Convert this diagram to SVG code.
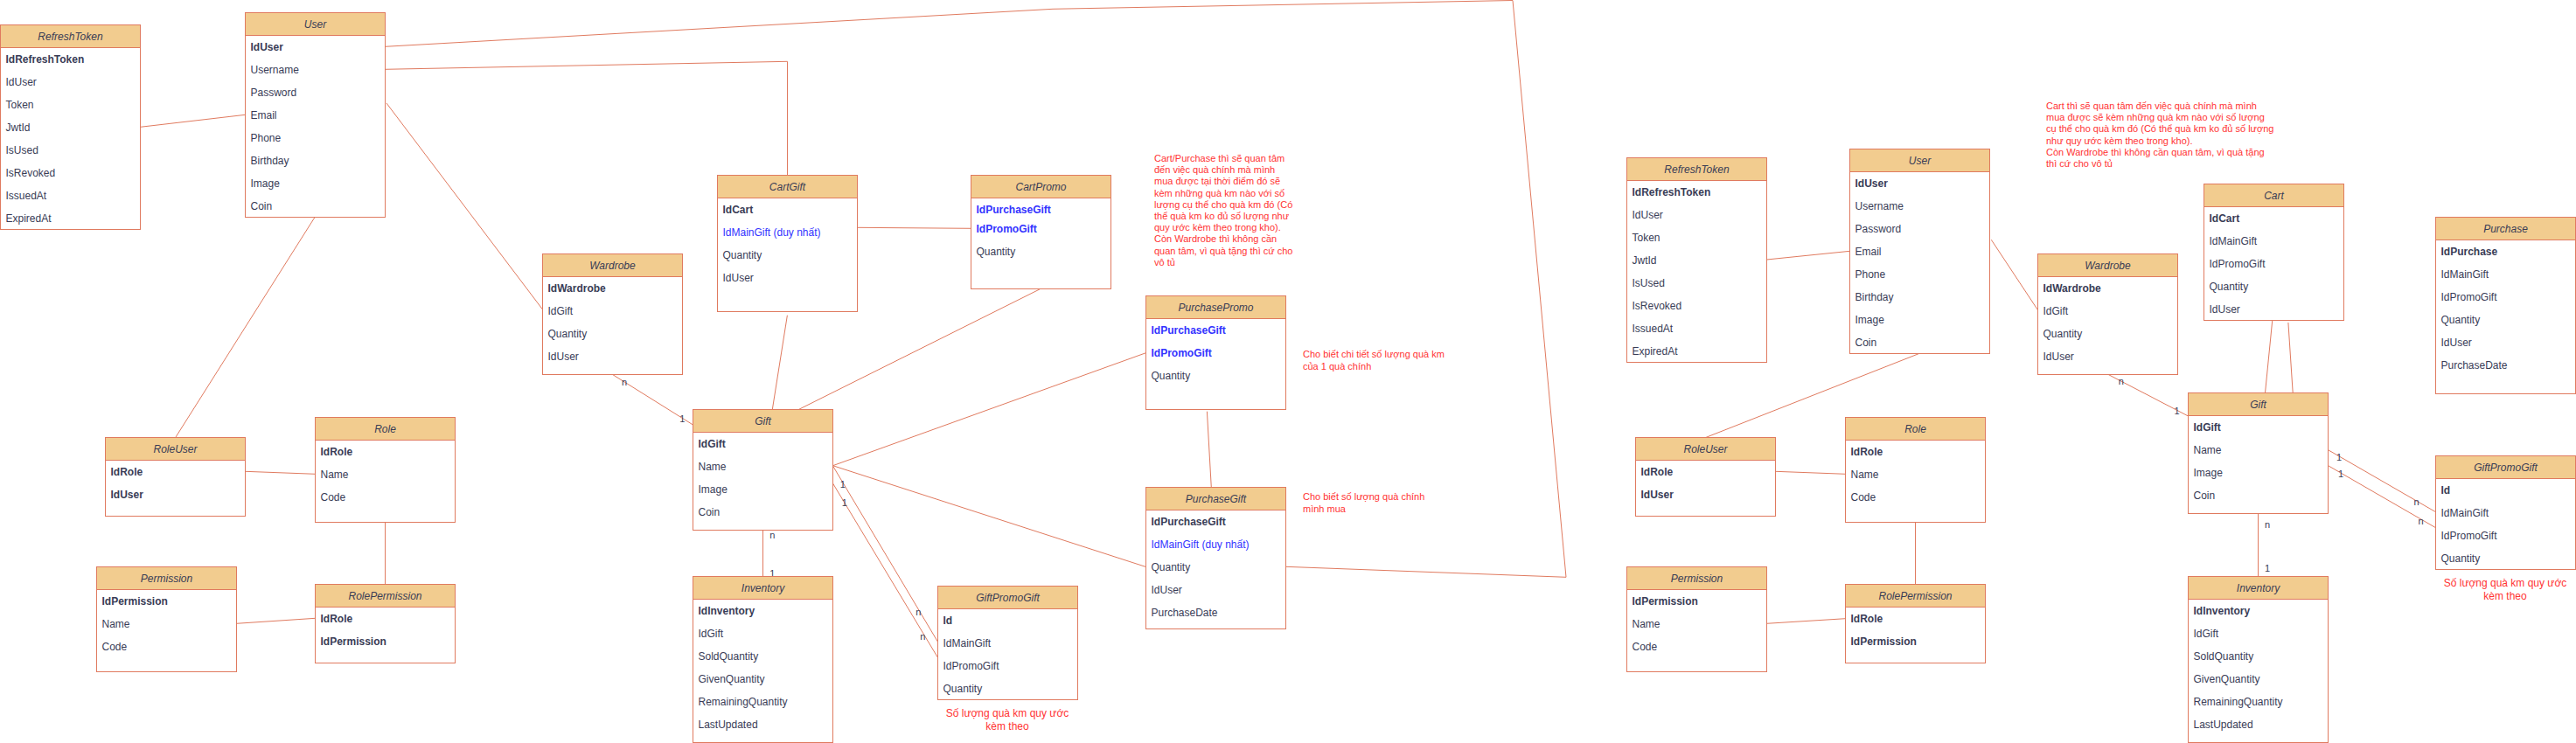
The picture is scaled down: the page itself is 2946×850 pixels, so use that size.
<svg xmlns="http://www.w3.org/2000/svg" width="2946" height="850" viewBox="0 0 2946 850">
<style>
text{font-family:"Liberation Sans",Arial,sans-serif;}
.bd{fill:#ffffff;stroke:#E07A5F;stroke-width:1;}
.hd{fill:#F2CC8F;stroke:#E07A5F;stroke-width:1;}
.t{font-size:12px;font-style:italic;fill:#393C56;text-anchor:middle;}
.f{font-size:12px;fill:#393C56;}
.b{font-weight:bold;}
.u{fill:#3333FF;}
.n{font-size:11px;fill:#FF3333;}
.c{font-size:12px;fill:#FF3333;text-anchor:middle;}
.l{font-size:11px;fill:#393C56;text-anchor:middle;}
.e{stroke:#E07A5F;stroke-width:1;fill:none;}
</style>
<rect width="2946" height="850" fill="#ffffff"/>
<g id="connectors">
<path class="e" d="M160.5,145.3 L280.5,131.3"/>
<path class="e" d="M440.5,79.3 L900.5,70.3 L900.5,200.5"/>
<path class="e" d="M440.5,53.3 L1204,10.3 L1730,0.5 L1791,660.3 L1470.5,648.3"/>
<path class="e" d="M442,118 L620.5,354"/>
<path class="e" d="M360,248.5 L200.7,500.5"/>
<path class="e" d="M280.5,539.3 L360.5,542.3"/>
<path class="e" d="M440.5,597.5 L440.5,668.5"/>
<path class="e" d="M270.5,713.3 L360.5,707.3"/>
<path class="e" d="M980.5,260.3 L1110.5,261.3"/>
<path class="e" d="M700.6,428.5 L792.5,486"/>
<path class="e" d="M900.4,360.7 L883.3,468.5"/>
<path class="e" d="M1189.4,330.7 L913.3,468.5"/>
<path class="e" d="M952.5,532.7 L1310.5,403.7"/>
<path class="e" d="M952.5,532.7 L1310.5,648.5"/>
<path class="e" d="M952.7,533.3 L1072.5,734.3"/>
<path class="e" d="M951.3,551 L1072.5,752.3"/>
<path class="e" d="M872.5,606.5 L872.5,659.5"/>
<path class="e" d="M1380.4,470.7 L1385.3,557.5"/>
<path class="e" d="M2020.5,297 L2115.5,287.3"/>
<path class="e" d="M2277.3,274.3 L2330.5,354.7"/>
<path class="e" d="M2194.7,404.5 L1950.7,500.5"/>
<path class="e" d="M2030.5,539.3 L2110.5,542.3"/>
<path class="e" d="M2190.5,597.5 L2190.5,668.5"/>
<path class="e" d="M2020.5,713.3 L2110.5,707.7"/>
<path class="e" d="M2411.2,428.5 L2502.5,476"/>
<path class="e" d="M2598.7,367 L2590.5,449.5"/>
<path class="e" d="M2616.9,369 L2622.2,449.5"/>
<path class="e" d="M2582.5,587.5 L2582.5,659.5"/>
<path class="e" d="M2662.5,514.7 L2785.5,585.7"/>
<path class="e" d="M2661.4,532 L2785.5,603.7"/>
<text class="l" x="714" y="441">n</text>
<text class="l" x="780.3" y="483">1</text>
<text class="l" x="883.3" y="616">n</text>
<text class="l" x="883.3" y="659.5">1</text>
<text class="l" x="963.7" y="558">1</text>
<text class="l" x="965.7" y="579">1</text>
<text class="l" x="1050.3" y="704">n</text>
<text class="l" x="1055.3" y="732">n</text>
<text class="l" x="2425.7" y="440">n</text>
<text class="l" x="2489.5" y="474">1</text>
<text class="l" x="2593" y="604">n</text>
<text class="l" x="2593" y="654">1</text>
<text class="l" x="2675" y="527">1</text>
<text class="l" x="2677" y="546">1</text>
<text class="l" x="2763.5" y="578">n</text>
<text class="l" x="2768.5" y="600">n</text>
</g>
<g id="RefreshToken">
<rect class="bd" x="0.5" y="28.5" width="160" height="234"/><rect class="hd" x="0.5" y="28.5" width="160" height="26"/>
<text class="t" x="80.5" y="45.5">RefreshToken</text>
<text class="f b" x="6.5" y="72">IdRefreshToken</text>
<text class="f" x="6.5" y="98">IdUser</text>
<text class="f" x="6.5" y="124">Token</text>
<text class="f" x="6.5" y="150">JwtId</text>
<text class="f" x="6.5" y="176">IsUsed</text>
<text class="f" x="6.5" y="202">IsRevoked</text>
<text class="f" x="6.5" y="228">IssuedAt</text>
<text class="f" x="6.5" y="254">ExpiredAt</text>
</g>
<g id="User">
<rect class="bd" x="280.5" y="14.5" width="160" height="234"/><rect class="hd" x="280.5" y="14.5" width="160" height="26"/>
<text class="t" x="360.5" y="31.5">User</text>
<text class="f b" x="286.5" y="58">IdUser</text>
<text class="f" x="286.5" y="84">Username</text>
<text class="f" x="286.5" y="110">Password</text>
<text class="f" x="286.5" y="136">Email</text>
<text class="f" x="286.5" y="162">Phone</text>
<text class="f" x="286.5" y="188">Birthday</text>
<text class="f" x="286.5" y="214">Image</text>
<text class="f" x="286.5" y="240">Coin</text>
</g>
<g id="CartGift">
<rect class="bd" x="820.5" y="200.5" width="160" height="156"/><rect class="hd" x="820.5" y="200.5" width="160" height="26"/>
<text class="t" x="900.5" y="217.5">CartGift</text>
<text class="f b" x="826.5" y="244">IdCart</text>
<text class="f u" x="826.5" y="270">IdMainGift (duy nhất)</text>
<text class="f" x="826.5" y="296">Quantity</text>
<text class="f" x="826.5" y="322">IdUser</text>
</g>
<g id="CartPromo">
<rect class="bd" x="1110.5" y="200.5" width="160" height="130"/><rect class="hd" x="1110.5" y="200.5" width="160" height="26"/>
<text class="t" x="1190.5" y="217.5">CartPromo</text>
<text class="f b u" x="1116.5" y="243.7">IdPurchaseGift</text>
<text class="f b u" x="1116.5" y="265.7">IdPromoGift</text>
<text class="f" x="1116.5" y="291.7">Quantity</text>
</g>
<g id="Wardrobe">
<rect class="bd" x="620.5" y="290.5" width="160" height="138"/><rect class="hd" x="620.5" y="290.5" width="160" height="26"/>
<text class="t" x="700.5" y="307.5">Wardrobe</text>
<text class="f b" x="626.5" y="334">IdWardrobe</text>
<text class="f" x="626.5" y="360">IdGift</text>
<text class="f" x="626.5" y="386">Quantity</text>
<text class="f" x="626.5" y="412">IdUser</text>
</g>
<g id="PurchasePromo">
<rect class="bd" x="1310.5" y="338.5" width="160" height="130"/><rect class="hd" x="1310.5" y="338.5" width="160" height="26"/>
<text class="t" x="1390.5" y="355.5">PurchasePromo</text>
<text class="f b u" x="1316.5" y="382">IdPurchaseGift</text>
<text class="f b u" x="1316.5" y="408">IdPromoGift</text>
<text class="f" x="1316.5" y="434">Quantity</text>
</g>
<g id="PurchaseGift">
<rect class="bd" x="1310.5" y="557.5" width="160" height="162"/><rect class="hd" x="1310.5" y="557.5" width="160" height="26"/>
<text class="t" x="1390.5" y="574.5">PurchaseGift</text>
<text class="f b" x="1316.5" y="601">IdPurchaseGift</text>
<text class="f u" x="1316.5" y="627">IdMainGift (duy nhất)</text>
<text class="f" x="1316.5" y="653">Quantity</text>
<text class="f" x="1316.5" y="679">IdUser</text>
<text class="f" x="1316.5" y="705">PurchaseDate</text>
</g>
<g id="Gift">
<rect class="bd" x="792.5" y="468.5" width="160" height="138"/><rect class="hd" x="792.5" y="468.5" width="160" height="26"/>
<text class="t" x="872.5" y="485.5">Gift</text>
<text class="f b" x="798.5" y="512">IdGift</text>
<text class="f" x="798.5" y="538">Name</text>
<text class="f" x="798.5" y="564">Image</text>
<text class="f" x="798.5" y="590">Coin</text>
</g>
<g id="Inventory">
<rect class="bd" x="792.5" y="659.5" width="160" height="190"/><rect class="hd" x="792.5" y="659.5" width="160" height="26"/>
<text class="t" x="872.5" y="676.5">Inventory</text>
<text class="f b" x="798.5" y="703">IdInventory</text>
<text class="f" x="798.5" y="729">IdGift</text>
<text class="f" x="798.5" y="755">SoldQuantity</text>
<text class="f" x="798.5" y="781">GivenQuantity</text>
<text class="f" x="798.5" y="807">RemainingQuantity</text>
<text class="f" x="798.5" y="833">LastUpdated</text>
</g>
<g id="GiftPromoGift">
<rect class="bd" x="1072.5" y="670.5" width="160" height="130"/><rect class="hd" x="1072.5" y="670.5" width="160" height="26"/>
<text class="t" x="1152.5" y="687.5">GiftPromoGift</text>
<text class="f b" x="1078.5" y="714">Id</text>
<text class="f" x="1078.5" y="740">IdMainGift</text>
<text class="f" x="1078.5" y="766">IdPromoGift</text>
<text class="f" x="1078.5" y="792">Quantity</text>
</g>
<g id="RoleUser">
<rect class="bd" x="120.5" y="500.5" width="160" height="90"/><rect class="hd" x="120.5" y="500.5" width="160" height="26"/>
<text class="t" x="200.5" y="517.5">RoleUser</text>
<text class="f b" x="126.5" y="544">IdRole</text>
<text class="f b" x="126.5" y="570">IdUser</text>
</g>
<g id="Role">
<rect class="bd" x="360.5" y="477.5" width="160" height="120"/><rect class="hd" x="360.5" y="477.5" width="160" height="26"/>
<text class="t" x="440.5" y="494.5">Role</text>
<text class="f b" x="366.5" y="521">IdRole</text>
<text class="f" x="366.5" y="547">Name</text>
<text class="f" x="366.5" y="573">Code</text>
</g>
<g id="Permission">
<rect class="bd" x="110.5" y="648.5" width="160" height="120"/><rect class="hd" x="110.5" y="648.5" width="160" height="26"/>
<text class="t" x="190.5" y="665.5">Permission</text>
<text class="f b" x="116.5" y="692">IdPermission</text>
<text class="f" x="116.5" y="718">Name</text>
<text class="f" x="116.5" y="744">Code</text>
</g>
<g id="RolePermission">
<rect class="bd" x="360.5" y="668.5" width="160" height="90"/><rect class="hd" x="360.5" y="668.5" width="160" height="26"/>
<text class="t" x="440.5" y="685.5">RolePermission</text>
<text class="f b" x="366.5" y="712">IdRole</text>
<text class="f b" x="366.5" y="738">IdPermission</text>
</g>
<g id="note-left">
<text class="n" x="1320" y="185">Cart/Purchase thì sẽ quan tâm</text>
<text class="n" x="1320" y="198.2">đến việc quà chính mà mình</text>
<text class="n" x="1320" y="211.4">mua được tại thời điểm đó sẽ</text>
<text class="n" x="1320" y="224.6">kèm những quà km nào với số</text>
<text class="n" x="1320" y="237.8">lượng cụ thể cho quà km đó (Có</text>
<text class="n" x="1320" y="251">thể quà km ko đủ số lượng như</text>
<text class="n" x="1320" y="264.2">quy ước kèm theo trong kho).</text>
<text class="n" x="1320" y="277.4">Còn Wardrobe thì không cần</text>
<text class="n" x="1320" y="290.6">quan tâm, vì quà tặng thì cứ cho</text>
<text class="n" x="1320" y="303.8">vô tủ</text>
</g>
<g id="note-promo">
<text class="n" x="1490" y="409.3">Cho biết chi tiết số lượng quà km</text>
<text class="n" x="1490" y="422.5">của 1 quà chính</text>
</g>
<g id="note-purchase">
<text class="n" x="1490" y="572.3">Cho biết số lượng quà chính</text>
<text class="n" x="1490" y="585.5">mình mua</text>
</g>
<g id="note-gpg">
<text class="c" x="1152" y="819.7">Số lượng quà km quy ước</text>
<text class="c" x="1152" y="834.7">kèm theo</text>
</g>
<g id="RefreshToken2">
<rect class="bd" x="1860.5" y="180.5" width="160" height="234"/><rect class="hd" x="1860.5" y="180.5" width="160" height="26"/>
<text class="t" x="1940.5" y="197.5">RefreshToken</text>
<text class="f b" x="1866.5" y="224">IdRefreshToken</text>
<text class="f" x="1866.5" y="250">IdUser</text>
<text class="f" x="1866.5" y="276">Token</text>
<text class="f" x="1866.5" y="302">JwtId</text>
<text class="f" x="1866.5" y="328">IsUsed</text>
<text class="f" x="1866.5" y="354">IsRevoked</text>
<text class="f" x="1866.5" y="380">IssuedAt</text>
<text class="f" x="1866.5" y="406">ExpiredAt</text>
</g>
<g id="User2">
<rect class="bd" x="2115.5" y="170.5" width="160" height="234"/><rect class="hd" x="2115.5" y="170.5" width="160" height="26"/>
<text class="t" x="2195.5" y="187.5">User</text>
<text class="f b" x="2121.5" y="214">IdUser</text>
<text class="f" x="2121.5" y="240">Username</text>
<text class="f" x="2121.5" y="266">Password</text>
<text class="f" x="2121.5" y="292">Email</text>
<text class="f" x="2121.5" y="318">Phone</text>
<text class="f" x="2121.5" y="344">Birthday</text>
<text class="f" x="2121.5" y="370">Image</text>
<text class="f" x="2121.5" y="396">Coin</text>
</g>
<g id="Wardrobe2">
<rect class="bd" x="2330.5" y="290.5" width="160" height="138"/><rect class="hd" x="2330.5" y="290.5" width="160" height="26"/>
<text class="t" x="2410.5" y="307.5">Wardrobe</text>
<text class="f b" x="2336.5" y="334">IdWardrobe</text>
<text class="f" x="2336.5" y="360">IdGift</text>
<text class="f" x="2336.5" y="386">Quantity</text>
<text class="f" x="2336.5" y="412">IdUser</text>
</g>
<g id="Cart">
<rect class="bd" x="2520.5" y="210.5" width="160" height="156"/><rect class="hd" x="2520.5" y="210.5" width="160" height="26"/>
<text class="t" x="2600.5" y="227.5">Cart</text>
<text class="f b" x="2526.5" y="254">IdCart</text>
<text class="f" x="2526.5" y="280">IdMainGift</text>
<text class="f" x="2526.5" y="306">IdPromoGift</text>
<text class="f" x="2526.5" y="332">Quantity</text>
<text class="f" x="2526.5" y="358">IdUser</text>
</g>
<g id="Purchase">
<rect class="bd" x="2785.5" y="248.5" width="160" height="202"/><rect class="hd" x="2785.5" y="248.5" width="160" height="26"/>
<text class="t" x="2865.5" y="265.5">Purchase</text>
<text class="f b" x="2791.5" y="292">IdPurchase</text>
<text class="f" x="2791.5" y="318">IdMainGift</text>
<text class="f" x="2791.5" y="344">IdPromoGift</text>
<text class="f" x="2791.5" y="370">Quantity</text>
<text class="f" x="2791.5" y="396">IdUser</text>
<text class="f" x="2791.5" y="422">PurchaseDate</text>
</g>
<g id="Gift2">
<rect class="bd" x="2502.5" y="449.5" width="160" height="138"/><rect class="hd" x="2502.5" y="449.5" width="160" height="26"/>
<text class="t" x="2582.5" y="466.5">Gift</text>
<text class="f b" x="2508.5" y="493">IdGift</text>
<text class="f" x="2508.5" y="519">Name</text>
<text class="f" x="2508.5" y="545">Image</text>
<text class="f" x="2508.5" y="571">Coin</text>
</g>
<g id="Inventory2">
<rect class="bd" x="2502.5" y="659.5" width="160" height="190"/><rect class="hd" x="2502.5" y="659.5" width="160" height="26"/>
<text class="t" x="2582.5" y="676.5">Inventory</text>
<text class="f b" x="2508.5" y="703">IdInventory</text>
<text class="f" x="2508.5" y="729">IdGift</text>
<text class="f" x="2508.5" y="755">SoldQuantity</text>
<text class="f" x="2508.5" y="781">GivenQuantity</text>
<text class="f" x="2508.5" y="807">RemainingQuantity</text>
<text class="f" x="2508.5" y="833">LastUpdated</text>
</g>
<g id="GiftPromoGift2">
<rect class="bd" x="2785.5" y="521.5" width="160" height="130"/><rect class="hd" x="2785.5" y="521.5" width="160" height="26"/>
<text class="t" x="2865.5" y="538.5">GiftPromoGift</text>
<text class="f b" x="2791.5" y="565">Id</text>
<text class="f" x="2791.5" y="591">IdMainGift</text>
<text class="f" x="2791.5" y="617">IdPromoGift</text>
<text class="f" x="2791.5" y="643">Quantity</text>
</g>
<g id="RoleUser2">
<rect class="bd" x="1870.5" y="500.5" width="160" height="90"/><rect class="hd" x="1870.5" y="500.5" width="160" height="26"/>
<text class="t" x="1950.5" y="517.5">RoleUser</text>
<text class="f b" x="1876.5" y="544">IdRole</text>
<text class="f b" x="1876.5" y="570">IdUser</text>
</g>
<g id="Role2">
<rect class="bd" x="2110.5" y="477.5" width="160" height="120"/><rect class="hd" x="2110.5" y="477.5" width="160" height="26"/>
<text class="t" x="2190.5" y="494.5">Role</text>
<text class="f b" x="2116.5" y="521">IdRole</text>
<text class="f" x="2116.5" y="547">Name</text>
<text class="f" x="2116.5" y="573">Code</text>
</g>
<g id="Permission2">
<rect class="bd" x="1860.5" y="648.5" width="160" height="120"/><rect class="hd" x="1860.5" y="648.5" width="160" height="26"/>
<text class="t" x="1940.5" y="665.5">Permission</text>
<text class="f b" x="1866.5" y="692">IdPermission</text>
<text class="f" x="1866.5" y="718">Name</text>
<text class="f" x="1866.5" y="744">Code</text>
</g>
<g id="RolePermission2">
<rect class="bd" x="2110.5" y="668.5" width="160" height="90"/><rect class="hd" x="2110.5" y="668.5" width="160" height="26"/>
<text class="t" x="2190.5" y="685.5">RolePermission</text>
<text class="f b" x="2116.5" y="712">IdRole</text>
<text class="f b" x="2116.5" y="738">IdPermission</text>
</g>
<g id="note-right">
<text class="n" x="2340" y="125">Cart thì sẽ quan tâm đến việc quà chính mà mình</text>
<text class="n" x="2340" y="138.2">mua được sẽ kèm những quà km nào với số lượng</text>
<text class="n" x="2340" y="151.4">cụ thể cho quà km đó (Có thể quà km ko đủ số lượng</text>
<text class="n" x="2340" y="164.6">như quy ước kèm theo trong kho).</text>
<text class="n" x="2340" y="177.8">Còn Wardrobe thì không cần quan tâm, vì quà tặng</text>
<text class="n" x="2340" y="191">thì cứ cho vô tủ</text>
</g>
<g id="note-gpg2">
<text class="c" x="2865" y="670.7">Số lượng quà km quy ước</text>
<text class="c" x="2865" y="685.7">kèm theo</text>
</g>
</svg>
